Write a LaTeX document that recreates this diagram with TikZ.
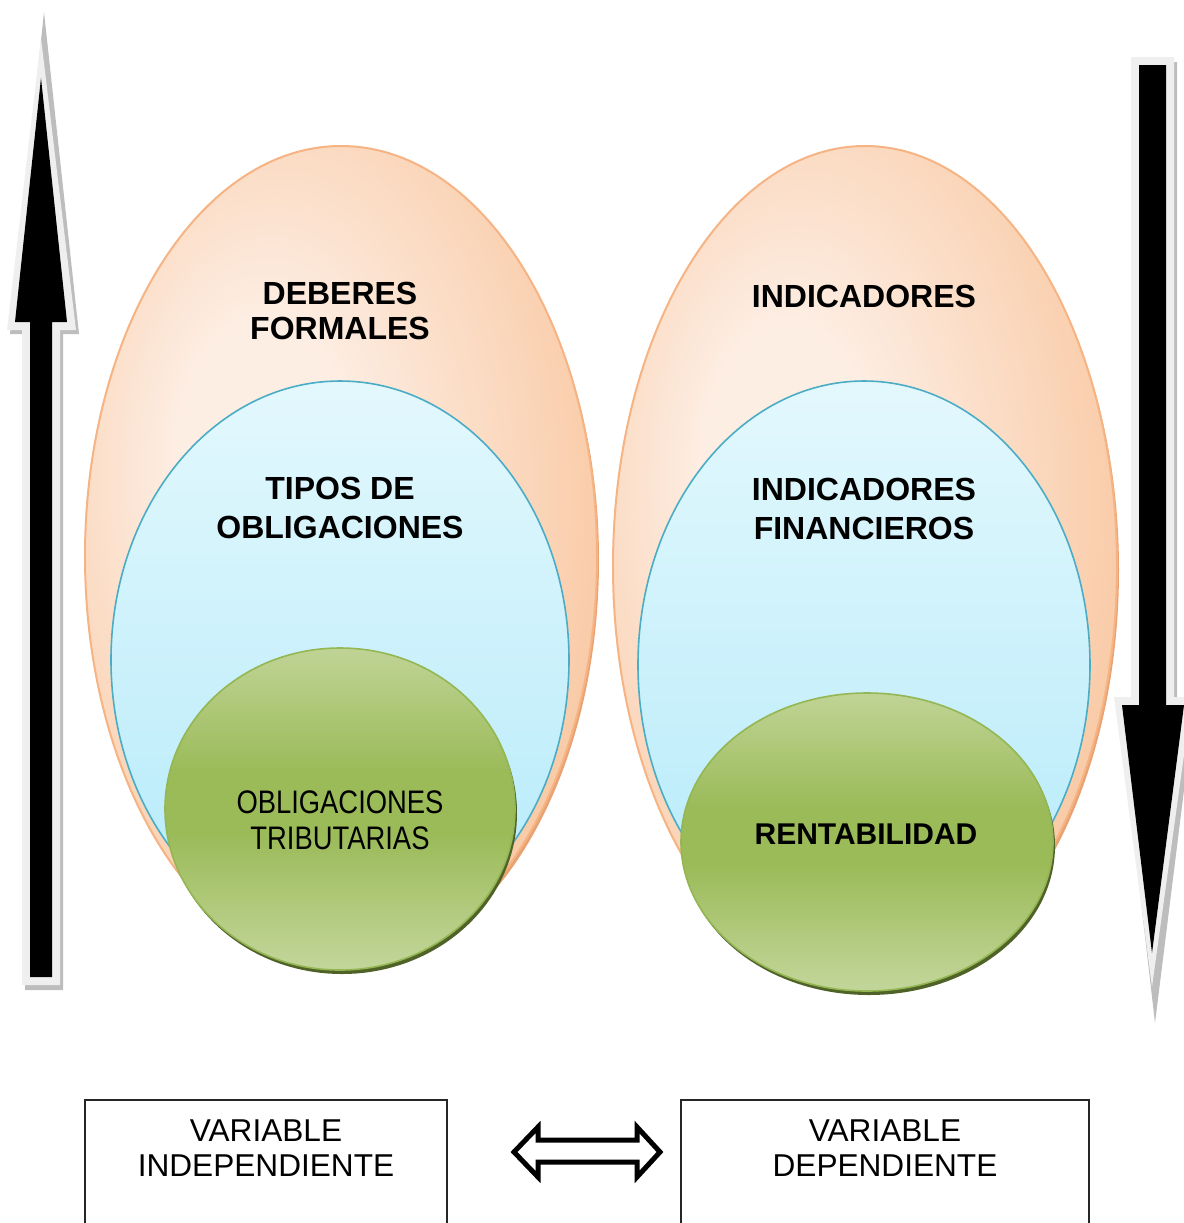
\documentclass[tikz,border=0pt]{standalone}
\usepackage{fontspec}
\setmainfont{Liberation Sans}
\usetikzlibrary{shapes.geometric}

\definecolor{peachlight}{HTML}{FDEEE4}
\definecolor{peachdark}{HTML}{F8C094}
\definecolor{peachedge}{HTML}{F6B383}
\definecolor{peachshadow}{HTML}{E9A272}
\definecolor{skytop}{HTML}{E3F8FD}
\definecolor{skybottom}{HTML}{B4EAFA}
\definecolor{skyedge}{HTML}{4BACC6}
\definecolor{leaflight}{HTML}{C3D69B}
\definecolor{leafmid}{HTML}{9BBB59}
\definecolor{leafedge}{HTML}{94B653}
\definecolor{leafshadow}{HTML}{4F6228}
\definecolor{arrowrim}{HTML}{EFEFEF}
\definecolor{arrowshade}{HTML}{BDBDBD}

% peach glow, brightest a little left of and above the centre
\pgfdeclareradialshading{peachglow}{\pgfpoint{-9bp}{7bp}}{%
  color(0bp)=(peachlight); color(8bp)=(peachlight); color(38bp)=(peachdark); color(60bp)=(peachdark)}
% sky fill, pale at the top
\pgfdeclareverticalshading{skyfill}{100bp}{%
  color(0bp)=(skybottom); color(25bp)=(skybottom); color(75bp)=(skytop); color(100bp)=(skytop)}
% leaf fill, dark band across the middle
\pgfdeclareverticalshading{leaffill}{100bp}{%
  color(0bp)=(leaflight); color(25bp)=(leaflight); color(46bp)=(leafmid);
  color(56bp)=(leafmid); color(75bp)=(leaflight!92!leafmid); color(100bp)=(leaflight)}

\tikzset{
  outer/.style={ellipse, inner sep=0pt, shading=peachglow, draw=peachedge, line width=1pt},
  outershadow/.style={ellipse, inner sep=0pt, fill=peachshadow},
  middle/.style={ellipse, inner sep=0pt, shading=skyfill, draw=skyedge, line width=0.8pt},
  inner/.style={ellipse, inner sep=0pt, shading=leaffill, draw=leafedge, line width=0.8pt},
  innershadow/.style={ellipse, inner sep=0pt, fill=leafshadow},
  heading/.style={font=\bfseries\fontsize{16}{17.5}\selectfont, align=center, inner sep=0pt},
  subheading/.style={font=\bfseries\fontsize{16}{19.5}\selectfont, align=center, inner sep=0pt},
  narrowlabel/.style={font=\fontsize{16.3}{18}\selectfont, align=center, inner sep=0pt},
  varbox/.style={draw=black!85, line width=1pt, rectangle, inner sep=0pt},
  varlabel/.style={font=\fontsize{15.8}{17.5}\selectfont, align=center, inner sep=0pt},
  blockarrow/.style={fill=black},
  rim/.style={fill=arrowrim},
  rimshadow/.style={fill=arrowshade},
}

\begin{document}
\begin{tikzpicture}[x=0.5pt, y=-0.5pt]
\useasboundingbox (0,0) rectangle (1184,1223);
\clip (0,0) rectangle (1184,1223);

% ---- upward arrow on the left ----
\fill[rimshadow] (44,12) -- (79,334) -- (63,334) -- (63,990) -- (25,990) -- (25,334) -- (10,334) -- cycle;
\fill[rim] (41,38) -- (76,330) -- (60,330) -- (60,985) -- (22,985) -- (22,330) -- (7,330) -- cycle;
\fill[blockarrow] (41,78) -- (67,322) -- (52,322) -- (52,977) -- (30,977) -- (30,322) -- (15,322) -- cycle;

% ---- downward arrow on the right ----
\fill[rimshadow] (1134,62) -- (1177,62) -- (1177,702) -- (1195,702) -- (1155,1023) -- (1118,702) -- (1134,702) -- cycle;
\fill[rim] (1131,57) -- (1174,57) -- (1174,697) -- (1192,697) -- (1152,987) -- (1114,697) -- (1131,697) -- cycle;
\fill[blockarrow] (1139,65) -- (1166,65) -- (1166,705) -- (1184,705) -- (1152,953) -- (1122,705) -- (1139,705) -- cycle;

% ---- left nest ----
\node[outershadow, minimum width=256pt, minimum height=410pt] (lshadow) at (343,560) {};
\node[outer, minimum width=256pt, minimum height=410pt] (lout) at (341,556) {};
\node[middle, minimum width=229pt, minimum height=279pt] (lmid) at (340,660) {};
\node[innershadow, minimum width=175pt, minimum height=161pt] (linshadow) at (342,813) {};
\node[inner, minimum width=175pt, minimum height=161pt] (lin) at (340,809) {};

\node[heading] (deberes) at (340,311) {DEBERES\\FORMALES};
\node[subheading] (tipos) at (340,508) {TIPOS DE\\OBLIGACIONES};
\node[narrowlabel] (oblig) at (340,820) {\scalebox{0.84}[1]{OBLIGACIONES}\\\scalebox{0.84}[1]{TRIBUTARIAS}};

% ---- right nest ----
\node[outershadow, minimum width=252pt, minimum height=420pt] (rshadow) at (867,570) {};
\node[outer, minimum width=252pt, minimum height=420pt] (rout) at (865,566) {};
\node[middle, minimum width=226pt, minimum height=284pt] (rmid) at (864,665) {};
\node[innershadow, minimum width=186pt, minimum height=149pt] (rinshadow) at (869,846) {};
\node[inner, minimum width=186pt, minimum height=149pt] (rin) at (867,842) {};

\node[heading] (indic) at (864,296) {INDICADORES};
\node[subheading] (indfin) at (864,509) {INDICADORES\\FINANCIEROS};
\node[heading, font=\bfseries\fontsize{15}{17}\selectfont] (rent) at (866,834) {RENTABILIDAD};

% ---- variable boxes ----
\node[varbox, minimum width=181pt, minimum height=100pt] (vind) at (266,1200) {};
\node[varbox, minimum width=204pt, minimum height=100pt] (vdep) at (885,1200) {};
\node[varlabel] (vindtxt) at (266,1148) {VARIABLE\\INDEPENDIENTE};
\node[varlabel] (vdeptxt) at (885,1148) {VARIABLE\\DEPENDIENTE};

% ---- two-way arrow between the boxes ----
\coordinate (link) at (587,1152);
\draw[line width=2.5pt, fill=white, line join=miter]
  ([xshift=-36.5pt]link) -- ([xshift=-24.5pt,yshift=12.5pt]link) -- ([xshift=-24.5pt,yshift=6pt]link)
  -- ([xshift=25pt,yshift=6pt]link) -- ([xshift=25pt,yshift=12.5pt]link) -- ([xshift=36.5pt]link)
  -- ([xshift=25pt,yshift=-12.5pt]link) -- ([xshift=25pt,yshift=-5pt]link) -- ([xshift=-24.5pt,yshift=-5pt]link)
  -- ([xshift=-24.5pt,yshift=-12.5pt]link) -- cycle;
\end{tikzpicture}
\end{document}
